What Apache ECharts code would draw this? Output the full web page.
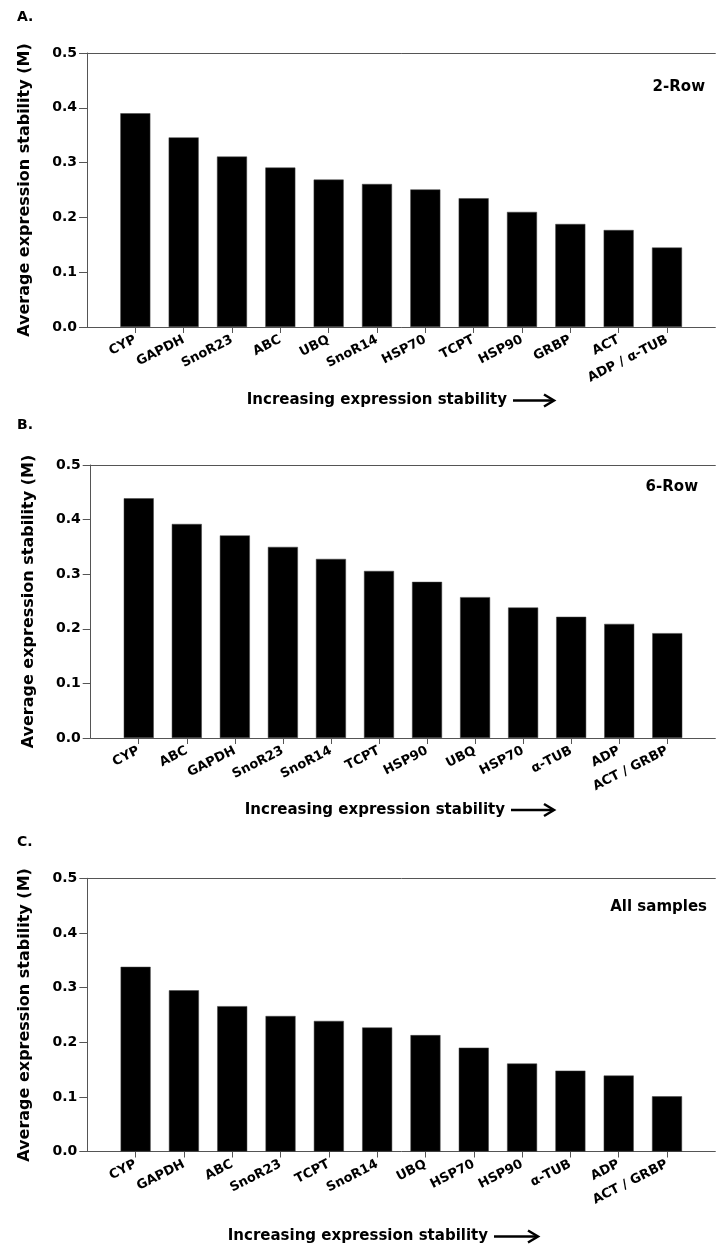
<!DOCTYPE html>
<html><head><meta charset="utf-8">
<script src="https://cdn.jsdelivr.net/npm/echarts@6/dist/echarts.min.js"></script>
<style>html,body{margin:0;padding:0;background:#fff}#c{width:718px;height:1247px}</style>
</head><body><div id="c"></div>
<script>
// ---- data ----
const catsA = ['CYP','GAPDH','SnoR23','ABC','UBQ','SnoR14','HSP70','TCPT','HSP90','GRBP','ACT','ADP / α-TUB'];
const valsA = [0.390,0.346,0.311,0.291,0.269,0.261,0.251,0.235,0.210,0.188,0.177,0.145];
const catsB = ['CYP','ABC','GAPDH','SnoR23','SnoR14','TCPT','HSP90','UBQ','HSP70','α-TUB','ADP','ACT / GRBP'];
const valsB = [0.439,0.392,0.371,0.350,0.328,0.306,0.286,0.258,0.239,0.222,0.209,0.192];
const catsC = ['CYP','GAPDH','ABC','SnoR23','TCPT','SnoR14','UBQ','HSP70','HSP90','α-TUB','ADP','ACT / GRBP'];
const valsC = [0.338,0.295,0.266,0.248,0.239,0.227,0.213,0.190,0.161,0.148,0.139,0.101];
const yTicks = [0, 0.5, 0.1]; // min, max, interval
const panelTags = ['A.','B.','C.'];
const panelNames = ['2-Row','6-Row','All samples'];
const yTitle = 'Average expression stability (M)';
const xTitle = 'Increasing expression stability';

// ---- layout ----
const FONT = 'DejaVu Sans';
const layout = [
  {left:87,   top:53,    height:274,   width:637.7, tagY:17,  nameX:705, nameY:87,  titleEnd:507, titleY:400.5, arrowEnd:554},
  {left:90.7, top:465,   height:273,   width:637.7, tagY:425, nameX:698, nameY:487, titleEnd:505, titleY:810,   arrowEnd:554},
  {left:87.3, top:878.3, height:273.2, width:639,   tagY:842, nameX:707, nameY:907, titleEnd:488, titleY:1236.5,arrowEnd:538}
];
const sets = [[catsA,valsA],[catsB,valsB],[catsC,valsC]];

const axisColor = '#555';
const grid = [], xAxis = [], yAxis = [], series = [], graphic = [];
sets.forEach(([cats, vals], i) => {
  const L = layout[i];
  const padded = [''].concat(cats, ['']);
  grid.push({left:L.left, top:L.top, width:L.width, height:L.height, containLabel:false});
  xAxis.push({
    type:'category', gridIndex:i, data:padded, boundaryGap:false,
    axisLine:{show:true, lineStyle:{color:axisColor, width:1}},
    axisTick:{show:true, length:6, interval:(idx)=> idx>0 && idx<=cats.length, lineStyle:{color:axisColor}},
    axisLabel:{interval:0, rotate:27, margin:12, color:'#000', fontFamily:FONT, fontWeight:'bold', fontSize:13},
    splitLine:{show:false}
  });
  xAxis.push({
    type:'category', gridIndex:i, data:padded, boundaryGap:false, position:'top',
    axisLine:{show:true, lineStyle:{color:axisColor, width:1}},
    axisTick:{show:false}, axisLabel:{show:false}, splitLine:{show:false}
  });
  yAxis.push({
    type:'value', gridIndex:i, min:yTicks[0], max:yTicks[1], interval:yTicks[2],
    axisLine:{show:true, lineStyle:{color:axisColor, width:1}},
    axisTick:{show:true, length:8, lineStyle:{color:axisColor}},
    axisLabel:{margin:10, color:'#000', fontFamily:FONT, fontWeight:'bold', fontSize:14, formatter:v=>v.toFixed(1)},
    splitLine:{show:false},
    name:yTitle, nameLocation:'middle', nameRotate:90, nameGap:54,
    nameTextStyle:{color:'#000', fontFamily:FONT, fontWeight:'bold', fontSize:16}
  });
  series.push({
    type:'bar', xAxisIndex:2*i, yAxisIndex:i, data:[null].concat(vals,[null]),
    barWidth:30, itemStyle:{color:'#000', borderColor:'#444', borderWidth:0.5}, silent:true
  });
  graphic.push({type:'text', x:17, y:L.tagY, style:{text:panelTags[i], fill:'#000', font:`bold 14px "${FONT}"`, verticalAlign:'middle'}});
  graphic.push({type:'text', x:L.nameX, y:L.nameY, style:{text:panelNames[i], fill:'#000', font:`bold 15px "${FONT}"`, align:'right', verticalAlign:'middle'}});
  graphic.push({type:'text', x:L.titleEnd, y:L.titleY, style:{text:xTitle, fill:'#000', font:`bold 15px "${FONT}"`, align:'right', verticalAlign:'middle'}});
  const a0 = L.titleEnd + 6, a1 = L.arrowEnd, ay = L.titleY;
  graphic.push({type:'line', shape:{x1:a0, y1:ay, x2:a1-1, y2:ay}, style:{stroke:'#000', lineWidth:2.5}});
  graphic.push({type:'polyline', shape:{points:[[a1-10,ay-6],[a1,ay],[a1-10,ay+6]]}, style:{stroke:'#000', lineWidth:2.5, fill:null}});
});

const chart = echarts.init(document.getElementById('c'), null, {renderer:'canvas'});
chart.setOption({animation:false, backgroundColor:'#fff', grid, xAxis, yAxis, series, graphic});
</script>
</body></html>
